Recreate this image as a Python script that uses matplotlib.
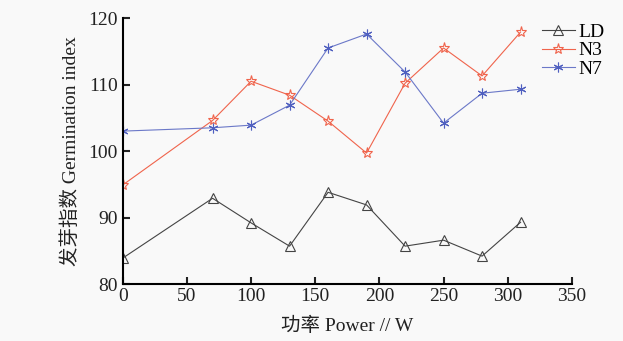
import matplotlib
matplotlib.use("Agg")
import matplotlib.pyplot as plt

plt.rcParams['font.family'] = ['Liberation Serif', 'Noto Sans CJK SC']

# Power (W)
power = [0, 70, 100, 130, 160, 190, 220, 250, 280, 310]

# Germination index per treatment
ld = [83.9, 92.9, 89.2, 85.7, 93.8, 91.9, 85.7, 86.6, 84.2, 89.3]
n3 = [94.9, 104.6, 110.5, 108.4, 104.5, 99.7, 110.2, 115.5, 111.3, 117.9]
n7 = [103.0, 103.5, 103.9, 106.9, 115.5, 117.6, 111.9, 104.2, 108.7, 109.3]

fig = plt.figure(figsize=(6.23, 3.41), dpi=100, facecolor='#f9f9f9')
ax = fig.add_axes([0.197, 0.167, 0.721, 0.78])
ax.set_facecolor('#f9f9f9')

ax.plot(power, ld, color='#444444', lw=0.8, marker='^', ms=7,
        mfc='none', mec='#444444', mew=0.8, label='LD')
ax.plot(power, n3, color='#f0644c', lw=0.8, marker='*', ms=8,
        mfc='none', mec='#f0644c', mew=0.8, label='N3')
ax.plot(power, n7, color='#6b78c8', lw=0.8, marker=(6, 2, 0), ms=7,
        mec='#5060c0', mew=0.8, label='N7')

ax.set_xlim(0, 350)
ax.set_ylim(80, 120)
ax.set_xticks([0, 50, 100, 150, 200, 250, 300, 350])
ax.set_yticks([80, 90, 100, 110, 120])
ax.spines['top'].set_visible(False)
ax.spines['right'].set_visible(False)
ax.spines['left'].set_linewidth(1.5)
ax.spines['bottom'].set_linewidth(1.5)
ax.tick_params(direction='in', length=5, width=1.5, labelsize=14, colors='#222222')
ax.tick_params(axis='x', pad=3)

ax.set_xlabel('功率 Power // W', fontsize=14, color='#222222', labelpad=8)
ax.set_ylabel('发芽指数 Germination index', fontsize=14, color='#222222', labelpad=6)

ax.legend(loc='upper left', bbox_to_anchor=(0.915, 1.01), frameon=False,
          fontsize=14, handlelength=1.7, labelspacing=0.05, handletextpad=0.2,
          borderaxespad=0)

fig.savefig('out.png', dpi=100, facecolor=fig.get_facecolor())
